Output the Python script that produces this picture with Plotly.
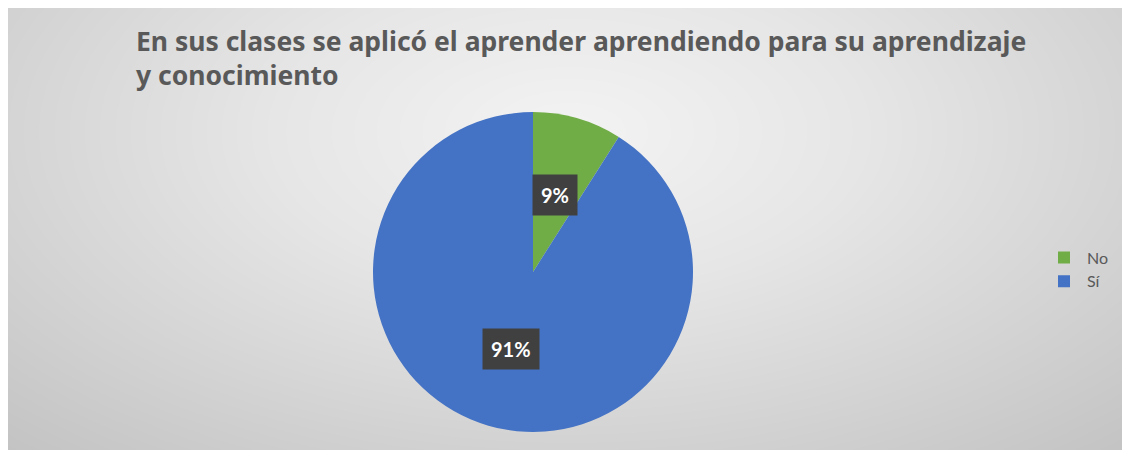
import numpy as np
import plotly.graph_objects as go

# ---- data ----
labels = ["No", "Sí"]
values = [9, 91]
colors = ["#70AD47", "#4472C4"]
title_text = "En sus clases se aplicó el aprender aprendiendo para su aprendizaje<br>y conocimiento"

# page body adds an 8px offset, so the figure is slightly smaller than the window
W, H = 1122, 442
PW, PH = W, H

# pie placement (figure pixels -> paper fractions)
cx_px, cy_px, R_px = 525, 264, 160
cx = cx_px / PW
cy = (H - cy_px) / PH
dom_x = [cx - R_px / PW, cx + R_px / PW]
dom_y = [cy - R_px / PH, cy + R_px / PH]

fig = go.Figure()

# radial gradient background (style only)
gx = np.linspace(0, 1, 80)
gy = np.linspace(0, 1, 40)
X, Y = np.meshgrid(gx, gy)
D = np.sqrt(((X - 0.5) * 1.0) ** 2 + ((Y - 0.72) * 0.75) ** 2)
fig.add_trace(go.Heatmap(x=gx, y=gy, z=D, zsmooth="best", showscale=False,
                         colorscale=[[0, "#f3f3f3"], [0.35, "#e6e6e6"], [1, "#c2c2c2"]],
                         zmin=0, zmax=0.75, hoverinfo="skip"))

fig.add_trace(go.Pie(labels=labels, values=values, sort=False, direction="clockwise",
                     rotation=0, marker=dict(colors=colors, line=dict(width=0)),
                     textinfo="none", domain=dict(x=dom_x, y=dom_y), hole=0))

# data labels at half radius along slice mid-angle
total = sum(values)
cum = 0
for lab, v in zip(labels, values):
    mid = (cum + v / 2) / total * 2 * np.pi
    cum += v
    r = 0.5 * R_px
    dx = r * np.sin(mid)
    dy = r * np.cos(mid)
    fig.add_annotation(x=cx + dx / PW, y=cy + dy / PH, xref="paper", yref="paper",
                       xanchor="center", yanchor="middle",
                       text=f"<b>{round(v / total * 100)}%</b>", showarrow=False,
                       font=dict(family="Lato, Open Sans, sans-serif", size=20, color="white"),
                       bgcolor="#404040", borderpad=8)

fig.update_layout(
    width=W, height=H,
    margin=dict(l=0, r=0, t=0, b=0),
    paper_bgcolor="white", plot_bgcolor="#d0d0d0",
    xaxis=dict(visible=False, range=[0, 1], domain=[0, 1], fixedrange=True),
    yaxis=dict(visible=False, range=[0, 1], domain=[0, 1], fixedrange=True),
    title=dict(text=f"<b>{title_text}</b>", xref="container", yref="container",
               x=128 / W, y=1 - 43 / H, xanchor="left", yanchor="top",
               font=dict(family="Noto Sans, Open Sans, sans-serif", size=26.5, color="#595959")),
    legend=dict(x=1033 / PW, y=(H - 261.5) / PH, xanchor="left", yanchor="middle",
                font=dict(family="Lato, Open Sans, sans-serif", size=16, color="#595959"),
                bgcolor="rgba(0,0,0,0)", itemclick=False, itemwidth=36),
    showlegend=True,
)

fig.write_html("out.html")
